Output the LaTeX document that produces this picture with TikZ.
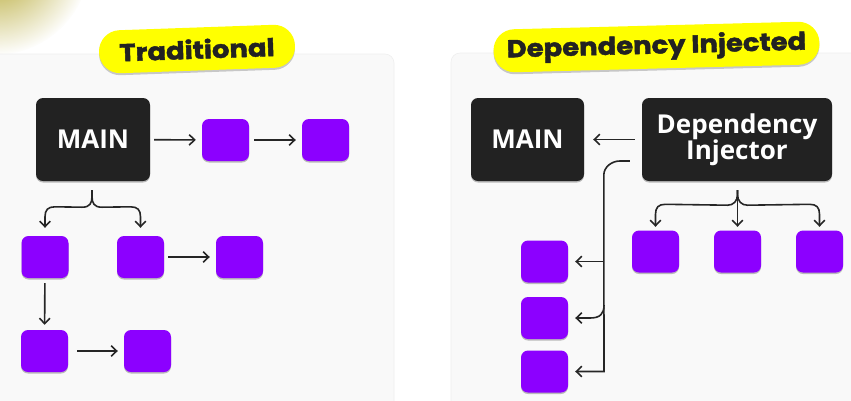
\documentclass[tikz,border=0pt]{standalone}
\usepackage{fontspec}
\setmainfont{Open Sans}
\newfontfamily\pillfont{Poppins}[FakeStretch=1.12, BoldFeatures={FakeBold=1.8}]
\usetikzlibrary{arrows.meta,shadows,fadings,calc}
\definecolor{ink}{HTML}{222222}
\definecolor{linec}{HTML}{262626}
\definecolor{violet}{RGB}{140,0,255}
\definecolor{panel}{HTML}{F9F9F9}
\definecolor{panelline}{HTML}{EFEFEF}
\definecolor{pill}{HTML}{FFFF00}
\definecolor{glow}{RGB}{175,160,30}
\tikzfading[name=myglow, inner color=transparent!0, outer color=transparent!100]
\tikzset{
  darkbox/.style={fill=ink, rounded corners=7pt, text=white, font=\bfseries\fontsize{26}{27}\selectfont,
    align=center, inner sep=0pt,
    drop shadow={shadow xshift=0pt, shadow yshift=-1.5pt, opacity=0.25, fill=black}},
  pbox/.style={fill=violet, rounded corners=7pt, minimum width=47pt, minimum height=42pt, inner sep=0pt,
    drop shadow={shadow xshift=0pt, shadow yshift=-1.5pt, opacity=0.25, fill=black}},
  pillbox/.style={fill=pill, rounded corners=21pt, inner sep=0pt, text=ink,
    font=\pillfont\bfseries\fontsize{24.5}{26}\selectfont,
    drop shadow={shadow xshift=0pt, shadow yshift=-2pt, opacity=0.2, fill=black}},
  arr/.style={draw=linec, line width=1.6pt, -{Straight Barb[length=5.5pt,width=10.5pt,line width=1.6pt]}},
  panelbox/.style={fill=panel, draw=panelline, line width=0.6pt, rounded corners=9pt}
}
\begin{document}
\begin{tikzpicture}[x=1pt,y=-1pt]
\useasboundingbox (0,0) rectangle (851,400);
\clip (0,0) rectangle (851,400);
\fill[white] (0,0) rectangle (851,400);
% glow
\fill[glow, path fading=myglow, fit fading=true, opacity=1] (-5,-40) circle (95);
% panels
\path[panelbox] (-20,54) rectangle (394,430);
\path[panelbox] (451,53) rectangle (880,430);
% pills
\node[pillbox, minimum width=196pt, minimum height=43pt, rotate=2] (pt) at (197,49) {Traditional};
\node[pillbox, minimum width=326pt, minimum height=43pt, rotate=1.5] (pd) at (656.5,47) {Dependency Injected};
% left side
\node[darkbox, minimum width=114pt, minimum height=83pt] (mainL) at (93,139.5) {MAIN};
\node[pbox] (p1) at (225.5,140) {};
\node[pbox] (p2) at (325.5,140) {};
\node[pbox] (a) at (45,257) {};
\node[pbox] (b) at (140.5,257) {};
\node[pbox] (c) at (239.5,257) {};
\node[pbox] (d) at (44.5,351) {};
\node[pbox] (e) at (147.5,351) {};
\draw[arr, shorten <=4pt, shorten >=6pt] (mainL) -- (p1);
\draw[arr, shorten <=5pt, shorten >=6pt] (p1) -- (p2);
\draw[arr, shorten <=4pt, shorten >=6pt] (b) -- (c);
\draw[arr, shorten <=5pt, shorten >=5pt] (a) -- (d);
\draw[arr, shorten <=9pt, shorten >=6pt] (d) -- (e);
\coordinate (bl) at ($(mainL.south)+(-1,9)$);
\draw[arr] (bl) -- ++(0,6) .. controls +(0,7) and +(8,0) .. ++(-10,11)
  -- ($(a.north)+(10,-29)$) .. controls +(-7,0) and +(0,-7) .. ($(a.north)+(0,-19)$) -- ($(a.north)+(0,-8)$);
\draw[arr] (bl) -- ++(0,6) .. controls +(0,7) and +(-8,0) .. ++(10,11)
  -- ($(b.north)+(-10,-29)$) .. controls +(7,0) and +(0,-7) .. ($(b.north)+(0,-19)$) -- ($(b.north)+(0,-8)$);
% right side
\node[darkbox, minimum width=113pt, minimum height=83pt] (mainR) at (527.5,139.5) {MAIN};
\node[darkbox, minimum width=190pt, minimum height=83pt, font=\bfseries\fontsize{26}{26}\selectfont] (di) at (737,139.5) {Dependency\\Injector};
\node[pbox] (r1) at (544.5,261.5) {};
\node[pbox] (r2) at (544.5,318) {};
\node[pbox] (r3) at (544.5,371.5) {};
\node[pbox] (s1) at (655.5,251.5) {};
\node[pbox] (s2) at (737.5,251.5) {};
\node[pbox] (s3) at (819.5,251.5) {};
\draw[arr, shorten <=7pt, shorten >=9pt] (di) -- (mainR);
\coordinate (bd) at ($(di.south)+(0.5,9)$);
\draw[arr] (bd) -- ($(s2.north)+(0,-3.5)$);
\draw[arr] (bd) -- ++(0,4) .. controls +(0,7) and +(6,0) .. ++(-10,11)
  -- ($(s1.north)+(10,-26)$) .. controls +(-7,0) and +(0,-7) .. ($(s1.north)+(0,-16)$) -- ($(s1.north)+(0,-3.5)$);
\draw[arr] (bd) -- ++(0,4) .. controls +(0,7) and +(-6,0) .. ++(10,11)
  -- ($(s3.north)+(-10,-26)$) .. controls +(7,0) and +(0,-7) .. ($(s3.north)+(0,-16)$) -- ($(s3.north)+(0,-3.5)$);
\coordinate (dstart) at ($(di.west)+(-12,21.5)$);
\coordinate (vx) at (604,170);
\draw[arr] (dstart) -- ++(-10,0) .. controls +(-8,0) and +(0,-8) .. ++(-16,14)
  -- (vx |- r3) -- ([xshift=7pt]r3.east);
\draw[arr] (vx |- r1) -- ([xshift=7pt]r1.east);
\draw[arr] ($(vx |- r2)+(0,-13)$) .. controls +(0,9) and +(10,0) .. ++(-14,13) -- ([xshift=7pt]r2.east);
\end{tikzpicture}
\end{document}
